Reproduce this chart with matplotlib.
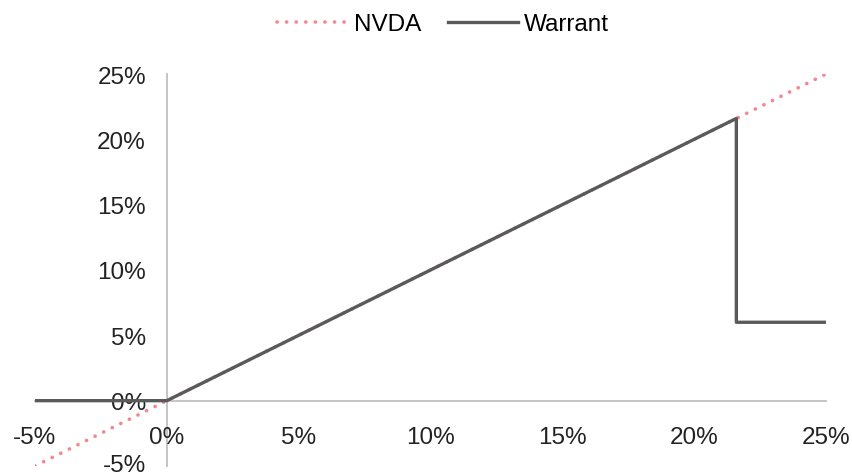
import matplotlib
matplotlib.use("Agg")
import matplotlib.pyplot as plt
import matplotlib.transforms as mtransforms
from matplotlib.ticker import FuncFormatter

plt.rcParams["font.family"] = ["Liberation Sans", "DejaVu Sans"]

# NVDA move vs. warrant payoff (percent)
nvda_x = [-5, 25]
nvda_y = [-5, 25]
warrant_x = [-5, 0, 21.6, 21.6, 25]
warrant_y = [0, 0, 21.6, 6, 6]

x_ticks = [-5, 0, 5, 10, 15, 20, 25]
y_ticks = [-5, 0, 5, 10, 15, 20, 25]

fig = plt.figure(figsize=(8.52, 4.77), dpi=100)
ax = fig.add_axes([35 / 852, 1 - 467 / 477, (826 - 35) / 852, (467 - 75) / 477])

ax.plot(nvda_x, nvda_y, color="#f4868f", linestyle=(0, (0.05, 2.6)), linewidth=2.6,
        dash_capstyle="round", label="NVDA", zorder=2)
ax.plot(warrant_x, warrant_y, color="#5a5a5a", linewidth=2.4, label="Warrant", zorder=3)

ax.set_xlim(-5, 25)
ax.set_ylim(-5, 25)
ax.set_xticks(x_ticks)
ax.set_yticks(y_ticks)
fmt = FuncFormatter(lambda v, p: f"{v:.0f}%")
ax.xaxis.set_major_formatter(fmt)
ax.yaxis.set_major_formatter(fmt)

for side in ["top", "right"]:
    ax.spines[side].set_visible(False)
ax.spines["left"].set_position(("data", 0))
ax.spines["bottom"].set_position(("data", 0))
for side in ["left", "bottom"]:
    ax.spines[side].set_color("#bfbfbf")
    ax.spines[side].set_linewidth(1.3)
    ax.spines[side].set_zorder(1)

ax.tick_params(axis="x", length=0, pad=18, labelsize=17.5, labelcolor="#222222")
ax.tick_params(axis="y", length=0, pad=15, labelsize=17.5, labelcolor="#222222")

# nudge the bottom y label up a little so it stays inside the figure
fig.canvas.draw()
lowest = ax.get_yticklabels()[0]
lowest.set_transform(lowest.get_transform()
                     + mtransforms.ScaledTranslation(0, 2.5 / 72, fig.dpi_scale_trans))

fig.legend(loc="center", bbox_to_anchor=(0.52, 0.947), ncol=2, frameon=False,
           fontsize=17.5, handlelength=2.9, handletextpad=0.25, columnspacing=1.1)

plt.savefig("out.png", dpi=100)
plt.close()
